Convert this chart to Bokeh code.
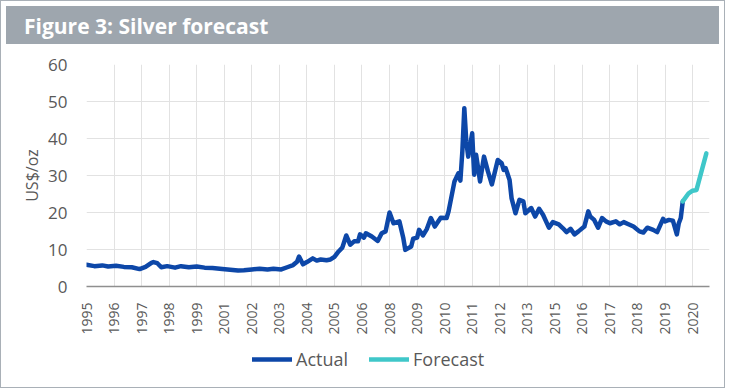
from bokeh.plotting import figure
from bokeh.models import Range1d, FixedTicker, Legend, LegendItem, Div
from bokeh.layouts import column
from bokeh.embed import file_html
from bokeh.resources import INLINE

# ---------------- data ----------------
title_text = "Figure 3: Silver forecast"
y_label = "US$/oz"

actual_dates = [
    "1995-03", "1995-07", "1995-11", "1996-02", "1996-06", "1996-10", "1997-02", "1997-06",
    "1997-09", "1997-12", "1998-01", "1998-03", "1998-05", "1998-08", "1998-12", "1999-03",
    "1999-07", "1999-11", "2000-03", "2000-07", "2000-12", "2001-04", "2001-08", "2001-11",
    "2002-03", "2002-07", "2002-11", "2003-02", "2003-06", "2003-09", "2003-12", "2004-02",
    "2004-03", "2004-05", "2004-07", "2004-10", "2004-12", "2005-02", "2005-05", "2005-07",
    "2005-09", "2005-11", "2006-01", "2006-03", "2006-05", "2006-07", "2006-09", "2006-10",
    "2006-12", "2007-01", "2007-04", "2007-07", "2007-09", "2007-11", "2008-01", "2008-03",
    "2008-06", "2008-08", "2008-09", "2008-12", "2009-01", "2009-03", "2009-04", "2009-06",
    "2009-08", "2009-10", "2009-12", "2010-03", "2010-06", "2010-07", "2010-10", "2010-12",
    "2011-01", "2011-02", "2011-03", "2011-04", "2011-05", "2011-07", "2011-08", "2011-09",
    "2011-11", "2012-01", "2012-03", "2012-05", "2012-08", "2012-10", "2012-11", "2012-12",
    "2013-02", "2013-03", "2013-05", "2013-07", "2013-09", "2013-10", "2014-01", "2014-03",
    "2014-05", "2014-07", "2014-10", "2014-12", "2015-03", "2015-05", "2015-07", "2015-09",
    "2015-11", "2016-01", "2016-04", "2016-06", "2016-07", "2016-09", "2016-11", "2017-01",
    "2017-03", "2017-05", "2017-08", "2017-10", "2017-12", "2018-03", "2018-05", "2018-08",
    "2018-10", "2018-12", "2019-03", "2019-05", "2019-08", "2019-09", "2019-11", "2020-01",
    "2020-03", "2020-04", "2020-05", "2020-06",
]
actual_values = [
    5.9, 5.5, 5.7, 5.4, 5.6, 5.3, 5.2, 4.7,
    5.3, 6.4, 6.6, 6.3, 5.2, 5.5, 5.1, 5.5,
    5.2, 5.4, 5.1, 5.0, 4.7, 4.5, 4.3, 4.4,
    4.6, 4.8, 4.6, 4.8, 4.6, 5.2, 5.8, 6.7,
    8.1, 6.0, 6.6, 7.6, 7.0, 7.3, 7.1, 7.3,
    8.0, 9.4, 10.5, 13.8, 11.3, 12.2, 12.2, 14.1,
    13.2, 14.4, 13.5, 12.3, 14.4, 14.9, 20.0, 17.1,
    17.6, 13.1, 9.9, 10.8, 12.9, 13.2, 15.3, 13.8,
    15.6, 18.5, 16.2, 18.6, 18.5, 20.3, 28.4, 30.6,
    28.6, 36.5, 48.2, 39.2, 35.1, 41.4, 30.2, 35.6,
    28.4, 35.1, 31.1, 27.6, 34.2, 33.3, 31.5, 32.0,
    28.8, 23.9, 19.8, 23.4, 23.0, 19.8, 21.2, 18.9,
    21.0, 19.4, 15.9, 17.4, 16.8, 15.8, 14.7, 15.6,
    14.1, 14.9, 16.2, 20.3, 18.9, 18.0, 15.9, 18.5,
    17.6, 17.1, 17.6, 16.8, 17.4, 16.7, 16.2, 14.9,
    14.6, 15.9, 15.3, 14.7, 18.3, 17.6, 18.0, 17.8,
    14.1, 17.1, 18.5, 23.0,
]

forecast_dates = ["2020-06", "2020-09", "2020-11", "2021-01", "2021-06"]
forecast_values = [23.0, 25.2, 25.9, 26.1, 36.0]

series_names = ["Actual", "Forecast"]

tick_labels = ["1995", "1996", "1997", "1998", "1999", "2001", "2002", "2003", "2004",
               "2005", "2006", "2008", "2009", "2010", "2011", "2012", "2013", "2015",
               "2016", "2017", "2018", "2019", "2020"]
axis_start = "1995-03"
label_step_months = 14
axis_end_months = 316.6
y_ticks = [0, 10, 20, 30, 40, 50, 60]


def month_index(d):
    y, m = map(int, d.split("-"))
    y0, m0 = map(int, axis_start.split("-"))
    return (y - y0) * 12 + (m - m0)


ax = [month_index(d) for d in actual_dates]
fx = [month_index(d) for d in forecast_dates]

FONT = "Open Sans"
GREY_TEXT = "#595959"
ACTUAL_COLOR = "#0d47a8"
FORECAST_COLOR = "#3fc7c9"
HEADER_COLOR = "#9ea6ae"
W = 713
LW = 4.5
NAN = float("nan")

# ---------------- header ----------------
header = Div(text=title_text, width=W, height=38,
             styles={"background-color": HEADER_COLOR, "color": "white",
                     "font-family": FONT, "font-weight": "bold", "font-size": "21px",
                     "line-height": "40px", "padding-left": "18px",
                     "box-sizing": "border-box", "white-space": "nowrap"})

# ---------------- chart ----------------
p = figure(width=W, height=292, output_backend="svg", toolbar_location=None,
           x_range=Range1d(0, axis_end_months), y_range=Range1d(0, 60),
           min_border_left=85, min_border_right=5, min_border_top=15, min_border_bottom=55,
           background_fill_color="white", border_fill_color="white", outline_line_color=None,
           frame_align=False)

p.line(ax, actual_values, line_color=ACTUAL_COLOR, line_width=LW, line_join="round",
       line_cap="round")
p.line(fx, forecast_values, line_color=FORECAST_COLOR, line_width=LW, line_join="round",
       line_cap="round")

p.xaxis.ticker = FixedTicker(ticks=[i * label_step_months for i in range(len(tick_labels))])
p.xaxis.major_label_overrides = {i * label_step_months: lab for i, lab in enumerate(tick_labels)}
p.xaxis.major_label_orientation = 3.14159265 / 2
p.xaxis.major_label_text_font = FONT
p.xaxis.major_label_text_font_size = "14px"
p.xaxis.major_label_text_color = GREY_TEXT
p.xaxis.major_label_standoff = 10
p.xaxis.axis_line_color = "#8f8f8f"
p.xaxis.axis_line_width = 1.5
p.xaxis.major_tick_line_color = None
p.xaxis.minor_tick_line_color = None

p.yaxis.ticker = FixedTicker(ticks=y_ticks)
p.yaxis.major_label_text_font = FONT
p.yaxis.major_label_text_font_size = "17px"
p.yaxis.major_label_text_color = GREY_TEXT
p.yaxis.major_label_standoff = 13
p.yaxis.axis_line_color = None
p.yaxis.major_tick_line_color = None
p.yaxis.minor_tick_line_color = None
p.yaxis.axis_label = y_label
p.yaxis.axis_label_text_font = FONT
p.yaxis.axis_label_text_font_size = "16px"
p.yaxis.axis_label_text_font_style = "normal"
p.yaxis.axis_label_text_color = GREY_TEXT
p.yaxis.axis_label_standoff = 2

p.xgrid.grid_line_color = "#e2e2e2"
p.ygrid.grid_line_color = "#e2e2e2"

# ---------------- legend strip ----------------
lg = figure(width=W, height=46, output_backend="svg", toolbar_location=None,
            x_axis_location=None, y_axis_location=None, min_border=0,
            outline_line_color=None, frame_align=False)
lg.grid.visible = False
k_actual = lg.line([NAN], [NAN], line_color=ACTUAL_COLOR, line_width=LW, line_cap="round")
k_fore = lg.line([NAN], [NAN], line_color=FORECAST_COLOR, line_width=LW, line_cap="round")
legend = Legend(items=[LegendItem(label=series_names[0], renderers=[k_actual]),
                       LegendItem(label=series_names[1], renderers=[k_fore])],
                orientation="horizontal", location=(251, 16),
                label_text_font=FONT, label_text_font_size="18px", label_text_color=GREY_TEXT,
                glyph_width=40, glyph_height=16, label_standoff=4, spacing=21,
                padding=0, margin=0, border_line_color=None, background_fill_alpha=0)
lg.add_layout(legend, "center")

layout = column(header, p, lg, spacing=0, styles={"border": "1px solid #a9b0b7"})

open("out.html", "w").write(file_html(layout, INLINE))
